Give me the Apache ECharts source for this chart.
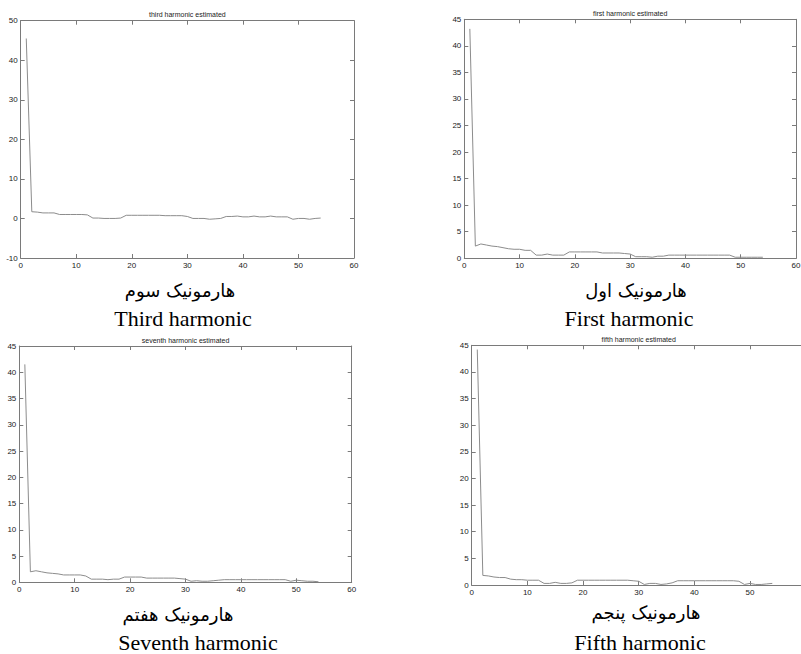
<!DOCTYPE html>
<html>
<head>
<meta charset="utf-8">
<script src="https://cdn.jsdelivr.net/npm/echarts@6/dist/echarts.min.js"></script>
<style>
html,body{margin:0;padding:0;background:#fff;}
#chart{width:801px;height:654px;}
</style>
</head>
<body>
<div id="chart"></div>
<script>
// sample index (x)
const samples = [];
for (let i = 1; i <= 54; i++) samples.push(i);

const thirdValues = [45.5,1.7,1.6,1.4,1.4,1.4,1.0,1.0,1.0,1.0,1.0,0.9,0.1,0.1,0.0,0.0,0.0,0.1,0.8,0.8,
  0.8,0.8,0.8,0.8,0.8,0.7,0.7,0.7,0.7,0.5,0.0,0.0,0.0,-0.2,-0.1,0.0,0.5,0.5,0.6,0.4,
  0.4,0.6,0.4,0.4,0.6,0.4,0.4,0.4,-0.2,0.0,0.0,-0.2,0.0,0.1];
const firstValues = [43.2,2.3,2.7,2.5,2.3,2.2,2.0,1.8,1.7,1.7,1.5,1.5,0.6,0.6,0.8,0.6,0.6,0.6,1.2,1.2,
  1.2,1.2,1.2,1.2,1.0,1.0,1.0,1.0,0.9,0.8,0.3,0.3,0.3,0.2,0.4,0.4,0.6,0.6,0.6,0.6,
  0.6,0.6,0.6,0.6,0.6,0.6,0.6,0.6,0.2,0.2,0.2,0.2,0.2,0.2];
const seventhValues = [41.5,2.0,2.2,2.0,1.8,1.7,1.6,1.4,1.4,1.4,1.4,1.2,0.6,0.6,0.6,0.5,0.6,0.6,1.0,1.0,
  1.0,1.0,0.8,0.8,0.8,0.8,0.8,0.8,0.7,0.6,0.2,0.3,0.2,0.2,0.3,0.4,0.5,0.5,0.5,0.5,
  0.5,0.5,0.5,0.5,0.5,0.5,0.5,0.5,0.2,0.4,0.3,0.2,0.2,0.1];
const fifthValues = [44.2,1.8,1.7,1.5,1.4,1.4,1.1,1.0,1.0,0.9,0.9,0.9,0.3,0.3,0.5,0.3,0.3,0.4,0.9,0.9,
  0.9,0.9,0.9,0.9,0.9,0.9,0.9,0.9,0.8,0.7,0.1,0.3,0.3,0.1,0.2,0.4,0.8,0.8,0.8,0.8,
  0.8,0.8,0.8,0.8,0.8,0.8,0.8,0.7,0.1,0.3,0.1,0.1,0.2,0.3];

const panelTitles = ['third harmonic estimated','first harmonic estimated','seventh harmonic estimated','fifth harmonic estimated'];
const persianLabels = ['هارمونیک سوم','هارمونیک اول','هارمونیک هفتم','هارمونیک پنجم'];
const englishLabels = ['Third harmonic','First harmonic','Seventh harmonic','Fifth harmonic'];
const yMins = [-10, 0, 0, 0];
const yMaxs = [50, 45, 45, 45];
const yIntervals = [10, 5, 5, 5];
const xMin = 0, xMax = 60, xInterval = 10;
const showXMaxLabel = [true, true, true, false];

const seriesValues = [thirdValues, firstValues, seventhValues, fifthValues];

const grids = [
  {left: 20.7, top: 20.7, width: 333.3, height: 237.3},
  {left: 464.3, top: 19.3, width: 331.7, height: 239},
  {left: 19.3, top: 346, width: 332.4, height: 236.3},
  {left: 471.7, top: 345.3, width: 334, height: 239.7}
];
const textPos = [
  {px: 180, py: 290, ex: 183, ey: 318},
  {px: 636, py: 290, ex: 629, ey: 318},
  {px: 178, py: 614, ex: 198, ey: 642},
  {px: 646, py: 612, ex: 640, ey: 642}
];

const boxColor = '#7a7a7a';
const lineColor = '#8c8c8c';
const labelStyle = {fontSize: 8, color: '#222', fontFamily: 'Liberation Sans, Arial, sans-serif'};

const option = {
  animation: false,
  backgroundColor: '#fff',
  grid: [], xAxis: [], yAxis: [], series: [], graphic: []
};

grids.forEach((g, i) => {
  option.grid.push(Object.assign({outerBoundsMode: 'none', containLabel: false}, g));
  const axLine = {show: true, onZero: false, lineStyle: {color: boxColor, width: 1}};
  const tick = {show: true, inside: true, length: 4, lineStyle: {color: boxColor}};
  option.xAxis.push({gridIndex: i, type: 'value', min: xMin, max: xMax, interval: xInterval, position: 'bottom',
    axisLine: axLine, axisTick: tick, splitLine: {show: false},
    axisLabel: Object.assign({margin: 3, showMaxLabel: showXMaxLabel[i]}, labelStyle)});
  option.xAxis.push({gridIndex: i, type: 'value', min: xMin, max: xMax, interval: xInterval, position: 'top',
    axisLine: axLine, axisTick: tick, splitLine: {show: false}, axisLabel: {show: false}});
  option.yAxis.push({gridIndex: i, type: 'value', min: yMins[i], max: yMaxs[i], interval: yIntervals[i], position: 'left',
    axisLine: axLine, axisTick: tick, splitLine: {show: false}, axisLabel: Object.assign({margin: 3}, labelStyle)});
  option.yAxis.push({gridIndex: i, type: 'value', min: yMins[i], max: yMaxs[i], interval: yIntervals[i], position: 'right',
    axisLine: axLine, axisTick: tick, splitLine: {show: false}, axisLabel: {show: false}});
  option.series.push({
    type: 'line', xAxisIndex: 2 * i, yAxisIndex: 2 * i, symbol: 'none',
    lineStyle: {color: lineColor, width: 1},
    data: samples.map((x, k) => [x, seriesValues[i][k]])
  });
  option.graphic.push({
    type: 'text', x: g.left + g.width / 2, y: g.top - 6,
    style: {text: panelTitles[i], fill: '#222', font: '7px "Liberation Sans", Arial, sans-serif', textAlign: 'center', textVerticalAlign: 'middle'}
  });
  option.graphic.push({
    type: 'text', x: textPos[i].px, y: textPos[i].py,
    style: {text: persianLabels[i], fill: '#000', font: '18px "DejaVu Sans", sans-serif', textAlign: 'center', textVerticalAlign: 'middle'}
  });
  option.graphic.push({
    type: 'text', x: textPos[i].ex, y: textPos[i].ey,
    style: {text: englishLabels[i], fill: '#000', font: '22px "Liberation Serif", "Times New Roman", serif', textAlign: 'center', textVerticalAlign: 'middle'}
  });
});

const chart = echarts.init(document.getElementById('chart'), null, {renderer: 'svg'});
chart.setOption(option);
</script>
</body>
</html>
